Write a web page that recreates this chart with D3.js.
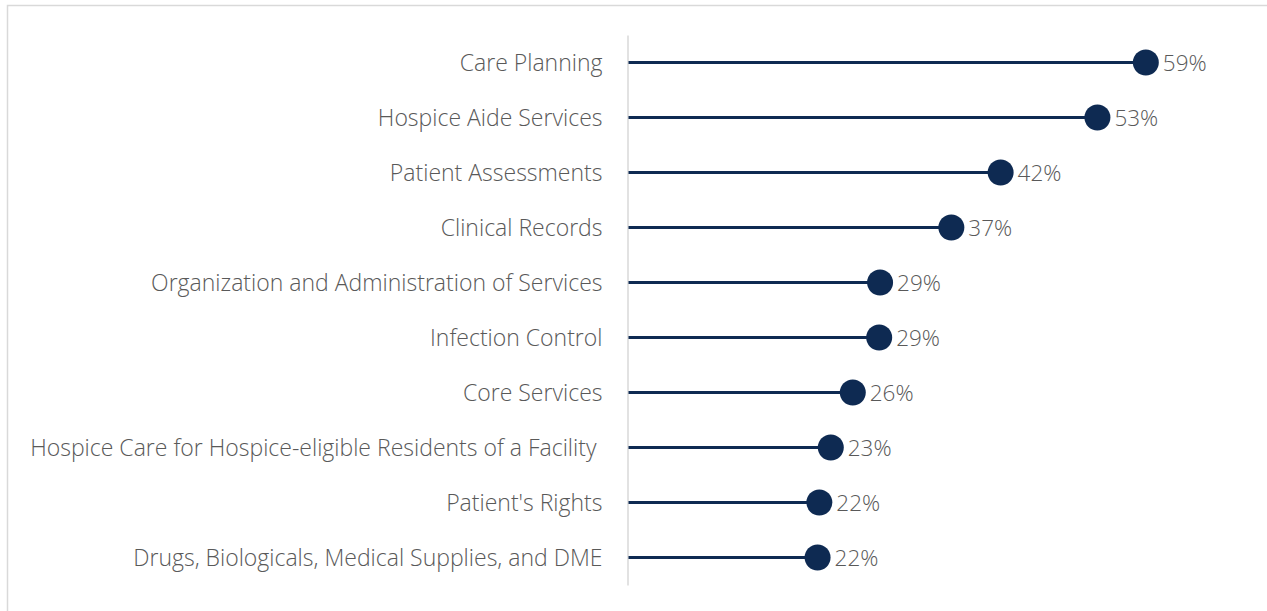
<!DOCTYPE html>
<html>
<head>
<meta charset="utf-8">
<script src="https://cdn.jsdelivr.net/npm/d3@7"></script>
<style>
  body { margin: 0; background: #fff; }
  #chart { width: 1267px; height: 611px; }
</style>
</head>
<body>
<div id="chart"></div>
<script>
// Dữ liệu: hạng mục và tỉ lệ (%)
const categories = [
    "Care Planning",
    "Hospice Aide Services",
    "Patient Assessments",
    "Clinical Records",
    "Organization and Administration of Services",
    "Infection Control",
    "Core Services",
    "Hospice Care for Hospice-eligible Residents of a Facility ",
    "Patient's Rights",
    "Drugs, Biologicals, Medical Supplies, and DME"
];
const values = [58.9, 53.4, 42.4, 36.8, 28.7, 28.6, 25.6, 23.1, 21.8, 21.6];

function drawChart(containerSelector) {
    const container = d3.select(containerSelector);
    container.html("");

    const data = categories.map((c, i) => ({ category: c, value: values[i] }));

    const chartWidth = 1267, chartHeight = 611;
    const margin = { top: 35, right: 111, bottom: 26, left: 627.5 };
    const width = chartWidth - margin.left - margin.right;
    const height = chartHeight - margin.top - margin.bottom;

    const root = container.append("svg")
        .attr("width", chartWidth)
        .attr("height", chartHeight);

    // Khung viền
    root.append("rect")
        .attr("x", 7.5).attr("y", 5.5)
        .attr("width", 1280).attr("height", 700)
        .attr("fill", "none")
        .attr("stroke", "#d9d9d9")
        .attr("stroke-width", 1.5);

    const svg = root.append("g")
        .attr("transform", `translate(${margin.left},${margin.top})`);

    const y = d3.scaleBand()
        .domain(categories)
        .range([0, height])
        .padding(0);

    const x = d3.scaleLinear()
        .domain([0, 60])
        .range([0, 528]);

    // Trục Y (nhãn hạng mục)
    const yAxis = svg.append("g")
        .call(d3.axisLeft(y).tickSize(0).tickPadding(25));
    yAxis.select(".domain")
        .attr("stroke", "#d9d9d9")
        .attr("stroke-width", 1.5);
    yAxis.selectAll("text")
        .attr("dy", "0.38em")
        .style("font-family", "'Open Sans', sans-serif")
        .style("font-size", "23px")
        .style("font-weight", "300")
        .style("white-space", "pre")
        .style("fill", "#595959");

    // Đường kẻ
    svg.selectAll(".stem")
        .data(data)
        .join("line")
        .attr("class", "stem")
        .attr("x1", x(0) + 1)
        .attr("x2", d => x(d.value))
        .attr("y1", d => y(d.category) + y.bandwidth() / 2)
        .attr("y2", d => y(d.category) + y.bandwidth() / 2)
        .attr("stroke", "#0e2a52")
        .attr("stroke-width", 3);

    // Chấm tròn
    svg.selectAll(".dot")
        .data(data)
        .join("circle")
        .attr("class", "dot")
        .attr("cx", d => x(d.value))
        .attr("cy", d => y(d.category) + y.bandwidth() / 2)
        .attr("r", 13)
        .attr("fill", "#0e2a52");

    // Nhãn giá trị
    svg.selectAll(".val")
        .data(data)
        .join("text")
        .attr("class", "val")
        .attr("x", d => x(d.value) + 17)
        .attr("y", d => y(d.category) + y.bandwidth() / 2)
        .attr("dy", "0.38em")
        .style("font-family", "'Open Sans', sans-serif")
        .style("font-size", "22.5px")
        .style("font-weight", "300")
        .style("fill", "#595959")
        .text(d => Math.round(d.value) + "%");
}

drawChart("#chart");
</script>
</body>
</html>
